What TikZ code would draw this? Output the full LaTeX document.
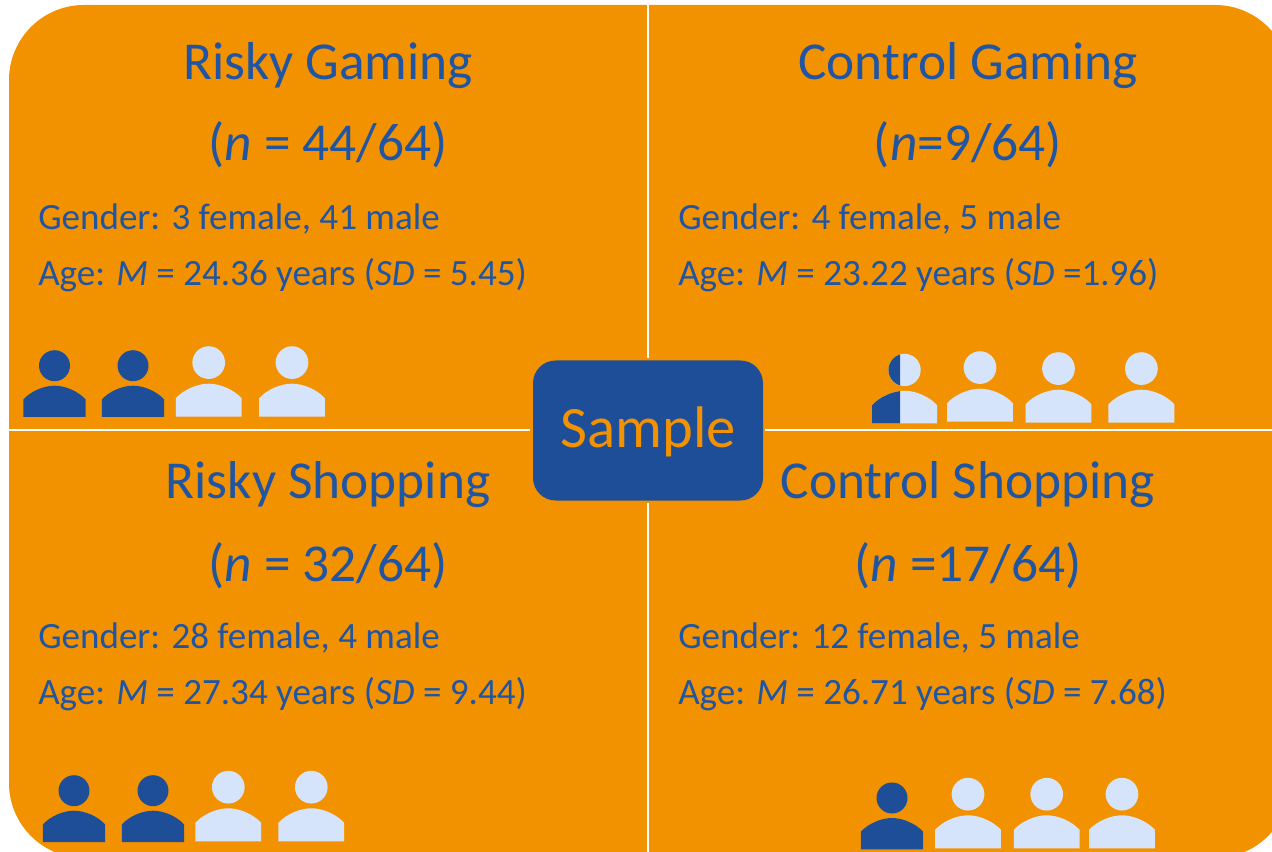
\documentclass[tikz,border=0pt]{standalone}
\usepackage{fontspec}
\setmainfont{Carlito}
\definecolor{orangebg}{HTML}{F39200}
\definecolor{bluedark}{HTML}{1F4E99}
\definecolor{bluetext}{HTML}{2055A3}
\definecolor{bluelight}{HTML}{D5E4FB}
\tikzset{
  headline/.style={anchor=base,inner sep=0pt,text=bluetext,font=\fontsize{40}{44}\selectfont},
  infoline/.style={anchor=base west,inner sep=0pt,text=bluetext,font=\fontsize{27.8}{32}\selectfont},
  divider/.style={draw=white,line width=2.1pt},
}
% cx, bottom y, colour, scale
\newcommand{\personfig}[4]{%
  \begin{scope}[shift={(#1,#2)},x=#4*0.75pt,y=-#4*0.75pt]
    \fill[#3] (0,-51.3) circle[radius=15.5];
    \fill[#3] (-31.2,0) -- (-31.2,-17.5) .. controls (-24,-25.5) and (-11,-31.3) .. (0,-31.3)
       .. controls (11,-31.3) and (24,-25.5) .. (31.2,-17.5) -- (31.2,0) -- cycle;
  \end{scope}}
\begin{document}
\begin{tikzpicture}[x=0.75pt,y=-0.75pt]
\useasboundingbox (0,0) rectangle (1272,852);
\clip (0,0) rectangle (1272,852);
\fill[white] (0,0) rectangle (1272,852);
\fill[orangebg,rounded corners=56.25pt] (9,5) rectangle (1290,858);
% dividers
\coordinate (vt) at (648,5); \coordinate (vb) at (648,852);
\coordinate (hl) at (9,430); \coordinate (hr) at (1272,430);
\node[draw=none,fill=bluedark,rounded corners=17pt,minimum width=172.5pt,minimum height=105pt,inner sep=0pt,anchor=center] (box) at (648,430.5) {};
\coordinate (boxt) at (648,358); \coordinate (boxb) at (648,503);
\coordinate (boxl) at (530,430); \coordinate (boxr) at (765,430);
\draw[divider] (vt) -- (boxt);
\draw[divider] (boxb) -- (vb);
\draw[divider] (hl) -- (boxl);
\draw[divider] (boxr) -- (hr);
\node[anchor=base,inner sep=0pt,text=orangebg,font=\fontsize{44}{48}\selectfont] (sample) at (648,447.5) {Sample};
% Risky Gaming
\node[headline] (t1) at (328,79.5) {Risky Gaming};
\node[headline] (n1) at (328,161) {(\textit{n} = 44/64)};
\node[infoline] (g1) at (38,229.5) {Gender: 3 female, 41 male};
\node[infoline] (a1) at (38,285.5) {Age: \textit{M} = 24.36 years (\textit{SD} = 5.45)};
% Control Gaming
\node[headline] (t2) at (968,79.5) {Control Gaming};
\node[headline] (n2) at (968,161) {(\textit{n}=9/64)};
\node[infoline] (g2) at (678,229.5) {Gender: 4 female, 5 male};
\node[infoline] (a2) at (678,285.5) {Age: \textit{M} = 23.22 years (\textit{SD} =1.96)};
% Risky Shopping
\node[headline] (t3) at (328,498.5) {Risky Shopping};
\node[headline] (n3) at (328,581) {(\textit{n} = 32/64)};
\node[infoline] (g3) at (38,648.5) {Gender: 28 female, 4 male};
\node[infoline] (a3) at (38,704.5) {Age: \textit{M} = 27.34 years (\textit{SD} = 9.44)};
% Control Shopping
\node[headline] (t4) at (968,498.5) {Control Shopping};
\node[headline] (n4) at (968,581) {(\textit{n} =17/64)};
\node[infoline] (g4) at (678,648.5) {Gender: 12 female, 5 male};
\node[infoline] (a4) at (678,704.5) {Age: \textit{M} = 26.71 years (\textit{SD} = 7.68)};
% people
\personfig{54.5}{417}{bluedark}{1}
\personfig{133}{417}{bluedark}{1}
\personfig{208.7}{416.7}{bluelight}{1.055}
\personfig{292}{416.7}{bluelight}{1.055}
\personfig{74}{842}{bluedark}{1}
\personfig{153}{842}{bluedark}{1}
\personfig{228.3}{841.3}{bluelight}{1.055}
\personfig{311.3}{841.3}{bluelight}{1.055}
\personfig{892}{849.3}{bluedark}{1}
\personfig{968}{848.3}{bluelight}{1.055}
\personfig{1046.7}{848.3}{bluelight}{1.055}
\personfig{1122}{848.3}{bluelight}{1.055}
\personfig{904.6}{423.3}{bluelight}{1.04}
\begin{scope}
  \clip (860,340) rectangle (900,430);
  \personfig{904.6}{423.3}{bluedark}{1.04}
\end{scope}
\personfig{980}{421.7}{bluelight}{1.055}
\personfig{1058.5}{422.7}{bluelight}{1.055}
\personfig{1141.4}{422.7}{bluelight}{1.055}
\end{tikzpicture}
\end{document}
